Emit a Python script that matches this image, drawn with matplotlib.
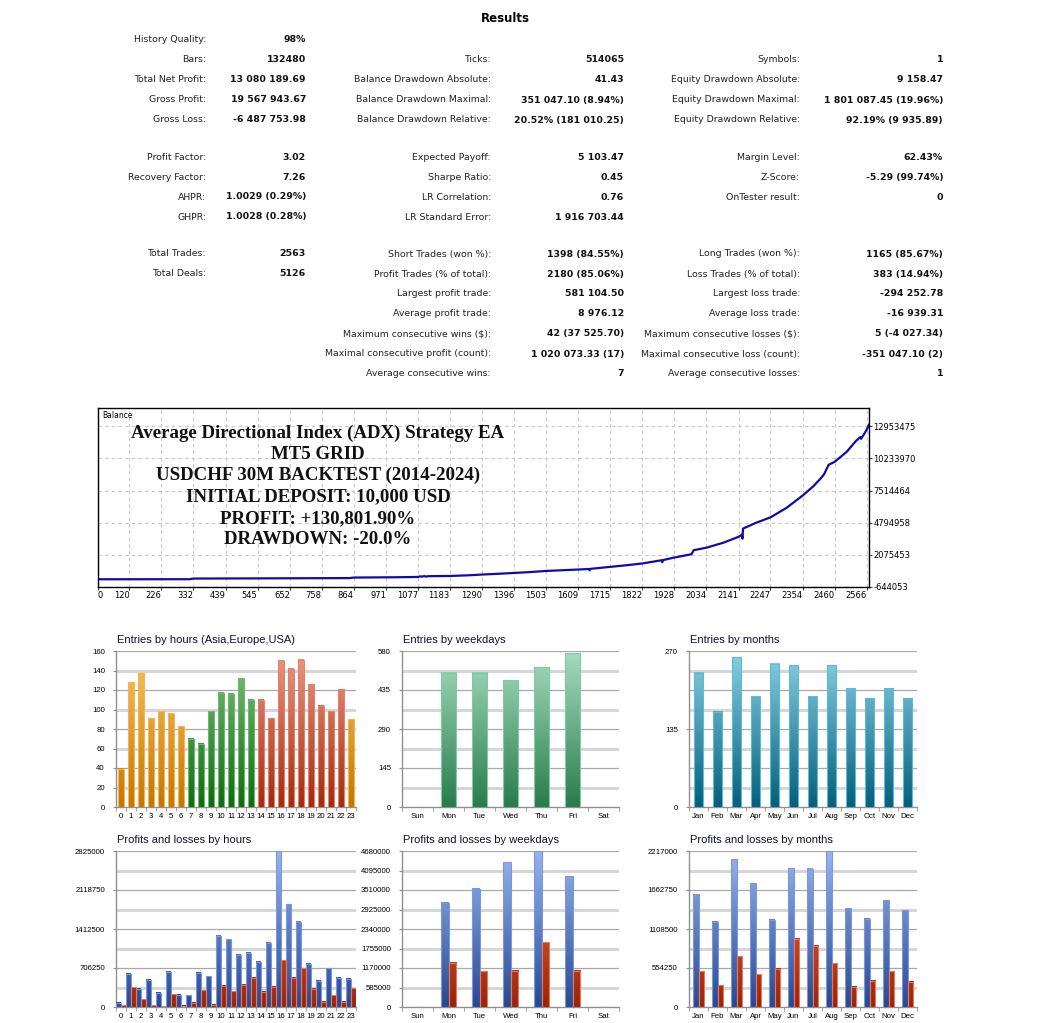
import numpy as np
import matplotlib
matplotlib.use('Agg')
import matplotlib.pyplot as plt
from matplotlib.colors import LinearSegmentedColormap

W, H = 1049, 1023

# ---------------- data ----------------
col1 = [
    (40, 'History Quality:', '98%'),
    (60, 'Bars:', '132480'),
    (80, 'Total Net Profit:', '13 080 189.69'),
    (100, 'Gross Profit:', '19 567 943.67'),
    (120, 'Gross Loss:', '-6 487 753.98'),
    (157, 'Profit Factor:', '3.02'),
    (177, 'Recovery Factor:', '7.26'),
    (197, 'AHPR:', '1.0029 (0.29%)'),
    (217, 'GHPR:', '1.0028 (0.28%)'),
    (254, 'Total Trades:', '2563'),
    (274, 'Total Deals:', '5126'),
]
col2 = [
    (60, 'Ticks:', '514065'),
    (80, 'Balance Drawdown Absolute:', '41.43'),
    (100, 'Balance Drawdown Maximal:', '351 047.10 (8.94%)'),
    (120, 'Balance Drawdown Relative:', '20.52% (181 010.25)'),
    (157, 'Expected Payoff:', '5 103.47'),
    (177, 'Sharpe Ratio:', '0.45'),
    (197, 'LR Correlation:', '0.76'),
    (217, 'LR Standard Error:', '1 916 703.44'),
    (254, 'Short Trades (won %):', '1398 (84.55%)'),
    (274, 'Profit Trades (% of total):', '2180 (85.06%)'),
    (294, 'Largest profit trade:', '581 104.50'),
    (314, 'Average profit trade:', '8 976.12'),
    (334, 'Maximum consecutive wins ($):', '42 (37 525.70)'),
    (354, 'Maximal consecutive profit (count):', '1 020 073.33 (17)'),
    (374, 'Average consecutive wins:', '7'),
]
col3 = [
    (60, 'Symbols:', '1'),
    (80, 'Equity Drawdown Absolute:', '9 158.47'),
    (100, 'Equity Drawdown Maximal:', '1 801 087.45 (19.96%)'),
    (120, 'Equity Drawdown Relative:', '92.19% (9 935.89)'),
    (157, 'Margin Level:', '62.43%'),
    (177, 'Z-Score:', '-5.29 (99.74%)'),
    (197, 'OnTester result:', '0'),
    (254, 'Long Trades (won %):', '1165 (85.67%)'),
    (274, 'Loss Trades (% of total):', '383 (14.94%)'),
    (294, 'Largest loss trade:', '-294 252.78'),
    (314, 'Average loss trade:', '-16 939.31'),
    (334, 'Maximum consecutive losses ($):', '5 (-4 027.34)'),
    (354, 'Maximal consecutive loss (count):', '-351 047.10 (2)'),
    (374, 'Average consecutive losses:', '1'),
]

balance_trades = [0, 320, 332, 600, 850, 864, 1000, 1077, 1085, 1090, 1098, 1104, 1112,
                  1183, 1240, 1290, 1340, 1396, 1450, 1503, 1560, 1609, 1645, 1647, 1649,
                  1715, 1770, 1822, 1886, 1888, 1890, 1928, 1985, 1992, 2034, 2090, 2141,
                  2152, 2154, 2156, 2200, 2247, 2300, 2354, 2390, 2412, 2425, 2440, 2460,
                  2500, 2530, 2545, 2548, 2566, 2574]
balance_values = [10000, 15000, 70000, 90000, 110000, 155000, 180000, 205000, 260000,
                  230000, 280000, 240000, 270000, 290000, 340000, 410000, 470000, 545000,
                  620000, 715000, 780000, 835000, 880000, 760000, 890000, 1060000,
                  1200000, 1350000, 1620000, 1450000, 1630000, 1850000, 2130000, 2470000,
                  2680000, 3100000, 3600000, 3780000, 3450000, 4300000, 4800000, 5250000,
                  6050000, 7100000, 7900000, 8500000, 8900000, 9700000, 9950000, 10800000,
                  11700000, 12050000, 11900000, 12650000, 13090000]
bal_xticks = [120, 226, 332, 439, 545, 652, 758, 864, 971, 1077, 1183, 1290, 1396, 1503,
              1609, 1715, 1822, 1928, 2034, 2141, 2247, 2354, 2460, 2566]
bal_yticks = [-644053, 2075453, 4794958, 7514464, 10233970, 12953475]
overlay_lines = ['Average Directional Index (ADX) Strategy EA', 'MT5 GRID',
                 'USDCHF 30M BACKTEST (2014-2024)', 'INITIAL DEPOSIT: 10,000 USD',
                 'PROFIT: +130,801.90%', 'DRAWDOWN: -20.0%']

hours = [str(h) for h in range(24)]
entries_hours = [39, 128, 137, 91, 98, 96, 83, 70, 65, 98, 117, 116, 132, 110, 110, 91,
                 150, 142, 151, 126, 104, 98, 121, 90]
hour_session = ['asia'] * 7 + ['europe'] * 7 + ['usa'] * 9 + ['asia']
weekdays = ['Sun', 'Mon', 'Tue', 'Wed', 'Thu', 'Fri', 'Sat']
entries_weekdays = [0, 499, 500, 472, 520, 572, 0]
months = ['Jan', 'Feb', 'Mar', 'Apr', 'May', 'Jun', 'Jul', 'Aug', 'Sep', 'Oct', 'Nov', 'Dec']
entries_months = [232, 165, 259, 192, 248, 245, 192, 245, 205, 188, 205, 187]

profit_hours = [78000, 604000, 332000, 495000, 260000, 640000, 223000, 217000, 622000,
                555000, 1286000, 1231000, 948000, 984000, 821000, 1165000, 2825000,
                1859000, 1545000, 785000, 477000, 706000, 531000, 513000]
loss_hours = [30000, 356000, 139000, 30000, 18000, 229000, 24000, 78000, 302000, 42000,
              386000, 284000, 404000, 531000, 278000, 368000, 845000, 531000, 706000,
              332000, 97000, 211000, 91000, 344000]
profit_weekdays = [0, 3130000, 3540000, 4340000, 4680000, 3930000, 0]
loss_weekdays = [0, 1330000, 1070000, 1090000, 1940000, 1090000, 0]
profit_months = [1601000, 1208000, 2103000, 1757000, 1241000, 1975000, 1966000, 2217000,
                 1402000, 1251000, 1516000, 1374000]
loss_months = [507000, 308000, 720000, 464000, 545000, 971000, 872000, 621000, 289000,
               374000, 507000, 360000]

# ---------------- figure ----------------
fig = plt.figure(figsize=(W / 100, H / 100), dpi=100)
fig.patch.set_facecolor('white')


def fx(x):
    return x / W


def fy(y):
    return 1 - y / H


def px_axes(l, t, r, b):
    return fig.add_axes([l / W, 1 - b / H, (r - l) / W, (b - t) / H])


tab_font = 'DejaVu Sans'
fig.text(fx(505), fy(18), 'Results', ha='center', va='center', fontsize=8.5,
         fontweight='bold', family=tab_font)
for col, lx, vx in [(col1, 206, 306), (col2, 491, 624), (col3, 800, 943)]:
    for y, lab, val in col:
        fig.text(fx(lx), fy(y), lab, ha='right', va='center', fontsize=6.75,
                 family=tab_font, color='#222222')
        fig.text(fx(vx), fy(y), val, ha='right', va='center', fontsize=6.75,
                 family=tab_font, fontweight='bold', color='#111111')

# ---------------- balance chart ----------------
ax = px_axes(98, 408, 869, 587)
ax.plot(balance_trades, balance_values, color='#0c0ca8', lw=1.6, solid_joinstyle='round')
ax.set_xlim(15.5, 2574)
ax.set_ylim(-644053, 14508000)
ax.set_xticks([15.5] + bal_xticks)
ax.set_xticklabels(['0'] + [str(t) for t in bal_xticks], fontsize=6, family=tab_font)
for i, lab in enumerate(ax.get_xticklabels()):
    lab.set_ha('left' if i == 0 else 'right')
ax.set_yticks(bal_yticks)
ax.set_yticklabels([str(t) for t in bal_yticks], fontsize=6, family=tab_font)
ax.yaxis.tick_right()
ax.tick_params(axis='both', length=2, width=0.8, color='#444444', pad=1)
ax.grid(True, color='#c8c8c8', linestyle=(0, (3, 3)), lw=0.8)
for s in ax.spines.values():
    s.set_color('black')
    s.set_linewidth(1)
ax.text(0.005, 0.985, 'Balance', transform=ax.transAxes, ha='left', va='top',
        fontsize=5.5, family=tab_font)
for i, line in enumerate(overlay_lines):
    fig.text(fx(318), fy(433 + i * 21.4), line, ha='center', va='center', fontsize=13.6,
             fontweight='bold', family='Liberation Serif', color='#111111')

# ---------------- small charts ----------------
small_font = 'Liberation Sans'


def gradient_bars(ax, x, h, w, top, bottom, edge, ymax):
    bars = ax.bar(x, h, w, color='none', edgecolor=edge, lw=0.8, zorder=4)
    cmap = LinearSegmentedColormap.from_list('g', [bottom, top])
    for b in bars:
        bh = b.get_height()
        if bh <= 0:
            continue
        g = np.linspace(0, bh / ymax, 80).reshape(-1, 1)
        ax.imshow(g, extent=[b.get_x(), b.get_x() + b.get_width(), 0, bh], origin='lower',
                  cmap=cmap, vmin=0, vmax=1, aspect='auto', zorder=3,
                  interpolation='bilinear')
    return bars


def style_small(ax, title, cats, ymax, ylabels_step, n_grid):
    n = len(cats)
    ax.set_xlim(-0.5, n - 0.5)
    ax.set_ylim(0, ymax)
    for s in ['top', 'right']:
        ax.spines[s].set_visible(False)
    for s in ['left', 'bottom']:
        ax.spines[s].set_color('#909090')
        ax.spines[s].set_linewidth(1)
    step = ymax / n_grid
    for k in range(1, n_grid + 1):
        yv = k * step
        if k % 2 == 0:
            ax.axhline(yv, color='#a8a8a8', lw=0.9, zorder=1)
        else:
            ax.axhline(yv, color='#d6d6d6', lw=2.2, zorder=1)
    ticks = np.arange(0, ymax + 1, ylabels_step)
    ax.set_yticks(ticks)
    ax.set_yticklabels([str(int(round(t))) for t in ticks], fontsize=5.6, family=small_font)
    ax.set_xticks(range(n))
    ax.set_xticklabels(cats, fontsize=5.6, family=small_font)
    ax.set_xticks(np.arange(-0.5, n, 1), minor=True)
    ax.tick_params(axis='x', which='major', length=0, pad=4)
    ax.tick_params(axis='x', which='minor', length=3, color='#909090')
    ax.tick_params(axis='y', length=2, color='#909090', pad=6)
    ax.set_title(title, loc='left', fontsize=8, family=small_font, pad=6, x=0.005,
                 color='#101030')


cols = [(116, 356), (402, 619), (689, 917)]
row1 = (651, 807)
row2 = (851, 1007)

hour_colors = {
    'asia': ('#fbc462', '#c47600', '#f4b450'),
    'europe': ('#80c480', '#0e6c0e', '#70b870'),
    'usa': ('#ec9a86', '#a42a0c', '#e4806c'),
}

# Entries by hours
ax1 = px_axes(cols[0][0], row1[0], cols[0][1], row1[1])
for sess, (top, bot, edge) in hour_colors.items():
    idx = [i for i, s in enumerate(hour_session) if s == sess]
    gradient_bars(ax1, idx, [entries_hours[i] for i in idx], 0.6, top, bot, edge, 160)
style_small(ax1, 'Entries by hours (Asia,Europe,USA)', hours, 160, 20, 8)

# Entries by weekdays
ax2 = px_axes(cols[1][0], row1[0], cols[1][1], row1[1])
gradient_bars(ax2, range(7), entries_weekdays, 0.5, '#a4dcc0', '#2a7c4c', '#7fcca4', 580)
style_small(ax2, 'Entries by weekdays', weekdays, 580, 145, 8)

# Entries by months
ax3 = px_axes(cols[2][0], row1[0], cols[2][1], row1[1])
gradient_bars(ax3, range(12), entries_months, 0.5, '#8ad0e4', '#04607c', '#5cbcd8', 270)
style_small(ax3, 'Entries by months', months, 270, 135, 8)

blue = ('#98b4ec', '#284894', '#7898e0')
red = ('#ec7458', '#9c2406', '#e8785c')

# Profits and losses by hours
ax4 = px_axes(cols[0][0], row2[0], cols[0][1], row2[1])
xh = np.arange(24)
gradient_bars(ax4, xh - 0.23, profit_hours, 0.46, *blue, 2825000)
gradient_bars(ax4, xh + 0.23, loss_hours, 0.46, *red, 2825000)
style_small(ax4, 'Profits and losses by hours', hours, 2825000, 706250, 8)

# Profits and losses by weekdays
ax5 = px_axes(cols[1][0], row2[0], cols[1][1], row2[1])
xw = np.arange(7)
gradient_bars(ax5, xw - 0.125, profit_weekdays, 0.25, *blue, 4680000)
gradient_bars(ax5, xw + 0.125, loss_weekdays, 0.25, *red, 4680000)
style_small(ax5, 'Profits and losses by weekdays', weekdays, 4680000, 585000, 8)

# Profits and losses by months
ax6 = px_axes(cols[2][0], row2[0], cols[2][1], row2[1])
xm = np.arange(12)
gradient_bars(ax6, xm - 0.14, profit_months, 0.28, *blue, 2217000)
gradient_bars(ax6, xm + 0.14, loss_months, 0.28, *red, 2217000)
style_small(ax6, 'Profits and losses by months', months, 2217000, 554250, 8)

fig.savefig('out.png', dpi=100, facecolor='white')
